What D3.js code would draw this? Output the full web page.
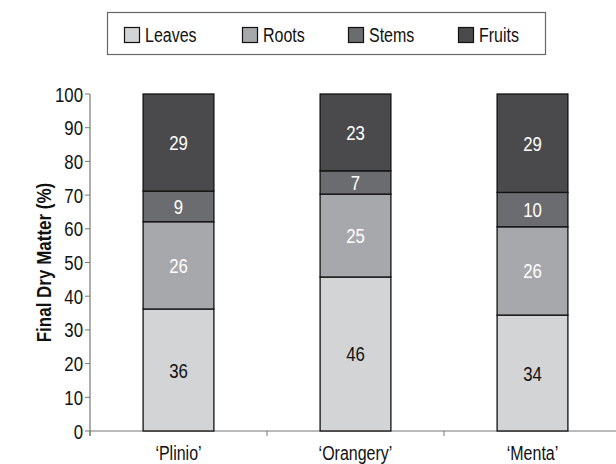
<!DOCTYPE html>
<html>
<head>
<meta charset="utf-8">
<script src="https://cdn.jsdelivr.net/npm/d3@7"></script>
<style>
  body { margin: 0; background: #fff; }
  svg { display: block; }
  text { font-family: 'Liberation Sans', Arial, sans-serif; }
</style>
</head>
<body>
<script>
// cultivars on the x axis
const cultivars = ['\u2018Plinio\u2019', '\u2018Orangery\u2019', '\u2018Menta\u2019']
const parts = ['Leaves', 'Roots', 'Stems', 'Fruits']

// share of final dry matter (%)
const leaves = [36.2, 45.7, 34.4]
const roots = [25.9, 24.6, 26.2]
const stems = [9.1, 6.9, 10.2]
const fruits = [28.8, 22.8, 29.2]

const yTicks = [0, 10, 20, 30, 40, 50, 60, 70, 80, 90, 100]

const fills = ['#d3d4d6', '#a7a8ab', '#6b6c6f', '#4a4a4c']
const labelColor = ['#111', '#fff', '#fff', '#fff']

const width = 616
const height = 464
const narrow = 0.8 // squeeze Liberation Sans to look like a condensed face

const rows = cultivars.map((c, i) => ({
  name: c, Leaves: leaves[i], Roots: roots[i], Stems: stems[i], Fruits: fruits[i]
}))

const series = d3.stack().keys(parts)(rows)

const x = d3.scaleBand().domain(cultivars).range([90, 621])
const y = d3.scaleLinear().domain([0, 100]).range([431, 94])
const color = d3.scaleOrdinal(parts, fills)
const barW = x.bandwidth() * 0.4

const svg = d3.select('body').append('svg')
  .attr('width', width)
  .attr('height', height)

function label (sel, px, py, rot, sx) {
  return sel.attr('transform', `translate(${px},${py}) rotate(${rot || 0}) scale(${sx || narrow},1)`)
}

// legend
const legend = svg.append('g')
legend.append('rect')
  .attr('x', 107.5).attr('y', 12.5)
  .attr('width', 438).attr('height', 42)
  .attr('fill', '#fff').attr('stroke', '#666').attr('stroke-width', 1.2)
const legendX = [124, 242, 348, 458]
parts.forEach((p, i) => {
  const g = legend.append('g').attr('transform', `translate(${legendX[i]},27)`)
  g.append('rect')
    .attr('x', 0.5).attr('y', 0.5).attr('width', 15).attr('height', 15)
    .attr('fill', color(p)).attr('stroke', '#111').attr('stroke-width', 1.2)
  g.append('text')
    .call(label, 21, 15)
    .attr('font-size', 20).attr('fill', '#111')
    .text(p)
})

// y axis
const yAxis = svg.append('g')
yAxis.append('line')
  .attr('x1', 90).attr('x2', 90).attr('y1', 94).attr('y2', 436)
  .attr('stroke', '#777').attr('stroke-width', 1.2)
yAxis.selectAll('.tk')
  .data(yTicks)
  .join('line')
  .attr('class', 'tk')
  .attr('x1', 85).attr('x2', 90)
  .attr('y1', d => y(d)).attr('y2', d => y(d))
  .attr('stroke', '#777')
yAxis.selectAll('.tl')
  .data(yTicks)
  .join('text')
  .attr('class', 'tl')
  .each(function (d) { label(d3.select(this), 83, y(d) + 7.5) })
  .attr('text-anchor', 'end')
  .attr('font-size', 21).attr('fill', '#111')
  .text(d => d)

// x axis: ticks on the band edges
const xAxis = svg.append('g').attr('transform', 'translate(0,431)')
xAxis.append('line')
  .attr('x1', 90).attr('x2', 621).attr('y1', 0).attr('y2', 0)
  .attr('stroke', '#777').attr('stroke-width', 1.2)
xAxis.selectAll('.edge')
  .data(cultivars)
  .join('line')
  .attr('class', 'edge')
  .attr('x1', d => x(d)).attr('x2', d => x(d))
  .attr('y1', 0).attr('y2', 5)
  .attr('stroke', '#777')
xAxis.selectAll('.cat')
  .data(cultivars)
  .join('text')
  .attr('class', 'cat')
  .each(function (d) { label(d3.select(this), x(d) + x.bandwidth() / 2, 29) })
  .attr('text-anchor', 'middle')
  .attr('font-size', 20).attr('fill', '#111')
  .text(d => d)

// bars
const layer = svg.selectAll('.layer')
  .data(series)
  .join('g')
  .attr('class', 'layer')
  .attr('fill', d => color(d.key))

layer.selectAll('rect')
  .data(d => d)
  .join('rect')
  .attr('x', d => x(d.data.name) + (x.bandwidth() - barW) / 2)
  .attr('y', d => y(d[1]))
  .attr('width', barW)
  .attr('height', d => y(d[0]) - y(d[1]))
  .attr('stroke', '#111')
  .attr('stroke-width', 1.3)

layer.selectAll('text')
  .data((d, i) => d.map(v => ({ v, i })))
  .join('text')
  .each(function (d) {
    label(d3.select(this), x(d.v.data.name) + x.bandwidth() / 2, (y(d.v[0]) + y(d.v[1])) / 2 + 7.5)
  })
  .attr('text-anchor', 'middle')
  .attr('font-size', 21)
  .attr('fill', d => labelColor[d.i])
  .text(d => Math.round(d.v[1] - d.v[0]))

// y title
svg.append('text')
  .call(label, 51, (y(0) + y(100)) / 2, -90, 0.85)
  .attr('text-anchor', 'middle')
  .attr('font-size', 20)
  .attr('font-weight', 'bold')
  .attr('fill', '#111')
  .text('Final Dry Matter (%)')
</script>
</body>
</html>
